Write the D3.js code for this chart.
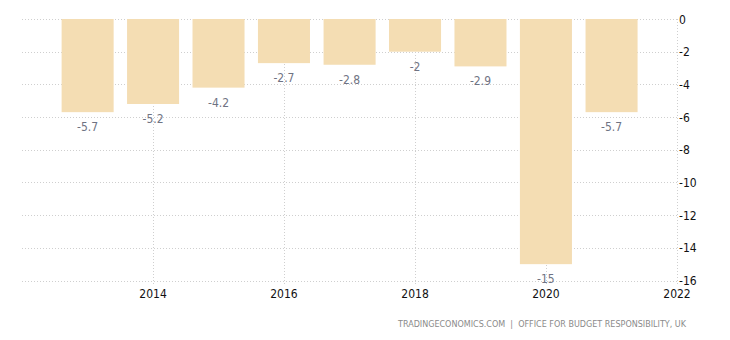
<!DOCTYPE html>
<html>
<head>
<meta charset="utf-8">
<script src="https://cdn.jsdelivr.net/npm/d3@7"></script>
<style>
  html, body { margin: 0; padding: 0; background: #fff; }
  svg { display: block; }
</style>
</head>
<body>
<svg id="chart" width="730" height="340"></svg>
<script>
// UK government budget balance, % of GDP
const years = [2013, 2014, 2015, 2016, 2017, 2018, 2019, 2020, 2021];
const values = [-5.7, -5.2, -4.2, -2.7, -2.8, -2, -2.9, -15, -5.7];
const yTicks = [0, -2, -4, -6, -8, -10, -12, -14, -16];
const xTickYears = [2014, 2016, 2018, 2020, 2022];
const sourceText = "TRADINGECONOMICS.COM  |  OFFICE FOR BUDGET RESPONSIBILITY, UK";

const svg = d3.select("#chart");
const plotLeft = 22, plotRight = 677, plotTop = 19, plotBottom = 280.5;

const x = d3.scaleTime()
  .domain([new Date(2012, 0, 1), new Date(2022, 0, 1)])
  .range([plotLeft, plotRight]);
const y = d3.scaleLinear().domain([0, -16]).range([plotTop, plotBottom]);

const yearPx = x(new Date(2014, 0, 1)) - x(new Date(2013, 0, 1));
const barW = yearPx * 0.795;

// grid
const grid = svg.append("g").attr("stroke", "#cfcfcf").attr("stroke-width", 1)
  .attr("stroke-dasharray", "1,2").attr("fill", "none");
yTicks.forEach(t => {
  const py = Math.round(y(t)) + 0.5;
  grid.append("line").attr("x1", plotLeft).attr("x2", plotRight).attr("y1", py).attr("y2", py);
});
xTickYears.forEach(yr => {
  const px = Math.round(x(new Date(yr, 0, 1))) + 0.5;
  grid.append("line").attr("x1", px).attr("x2", px).attr("y1", plotTop).attr("y2", plotBottom + 4);
});

// bars
svg.append("g").selectAll("rect").data(years).join("rect")
  .attr("x", (d) => x(new Date(d, 0, 1)) - barW / 2)
  .attr("y", y(0))
  .attr("width", barW)
  .attr("height", (d, i) => y(values[i]) - y(0))
  .attr("fill", "#f4ddb3");

// value labels (plain hyphen-minus)
svg.append("g").selectAll("text").data(years).join("text")
  .attr("x", (d) => x(new Date(d, 0, 1)))
  .attr("y", (d, i) => y(values[i]) + 19)
  .attr("text-anchor", "middle")
  .attr("font-family", "'DejaVu Sans Condensed', 'DejaVu Sans', sans-serif")
  .attr("font-size", 12)
  .attr("fill", "#6f7383")
  .text((d, i) => String(values[i]));

// y axis labels (right)
svg.append("g").selectAll("text").data(yTicks).join("text")
  .attr("x", plotRight + 2)
  .attr("y", (d) => y(d) + 4.5)
  .attr("font-family", "'DejaVu Sans Condensed', 'DejaVu Sans', sans-serif")
  .attr("font-size", 12)
  .attr("fill", "#111")
  .text((d) => String(d));

// x axis labels
svg.append("g").selectAll("text").data(xTickYears).join("text")
  .attr("x", (d) => x(new Date(d, 0, 1)))
  .attr("y", 298)
  .attr("text-anchor", "middle")
  .attr("font-family", "'DejaVu Sans Condensed', 'DejaVu Sans', sans-serif")
  .attr("font-size", 12)
  .attr("fill", "#111")
  .text((d) => String(d));

// source
svg.append("text")
  .attr("x", 686)
  .attr("y", 327)
  .attr("text-anchor", "end")
  .attr("font-family", "'DejaVu Sans Condensed', 'DejaVu Sans', sans-serif")
  .attr("font-size", 9)
  .attr("fill", "#8a8a8a")
  .attr("textLength", 288)
  .attr("lengthAdjust", "spacingAndGlyphs")
  .attr("xml:space", "preserve")
  .text(sourceText);
</script>
</body>
</html>
